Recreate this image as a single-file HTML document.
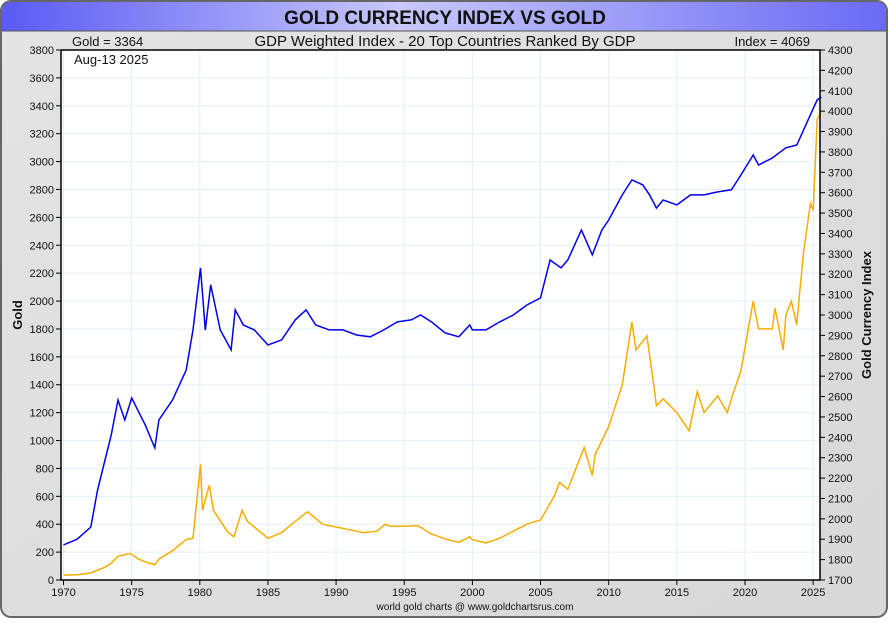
<!DOCTYPE html>
<html><head><meta charset="utf-8"><style>
body{margin:0;width:890px;height:620px;overflow:hidden;background:#fff;font-family:"Liberation Sans",sans-serif}
</style></head><body>
<svg id="c" width="890" height="620" xmlns="http://www.w3.org/2000/svg">
<defs>
<linearGradient id="tb" x1="0" x2="1"><stop offset="0" stop-color="#5a5af5"/><stop offset="0.45" stop-color="#c8c8fa"/><stop offset="1" stop-color="#6a6af5"/></linearGradient>
<linearGradient id="bg" x1="0" y1="0" x2="1" y2="1"><stop offset="0" stop-color="#e4e4e4"/><stop offset="1" stop-color="#d8d8d8"/></linearGradient>
</defs>
<rect x="1" y="1" width="886" height="616" rx="10" fill="url(#bg)" stroke="#666" stroke-width="2"/>
<path d="M2 31 V12 Q2 2 12 2 H876 Q886 2 886 12 V31 Z" fill="url(#tb)"/>
<line x1="2" y1="31" x2="886" y2="31" stroke="#555"/>
<text x="445" y="24" text-anchor="middle" font-size="19" font-weight="bold" fill="#111">GOLD CURRENCY INDEX VS GOLD</text>
<text x="72" y="46" font-size="13" fill="#111">Gold = 3364</text>
<text x="445" y="46" text-anchor="middle" font-size="15" fill="#111">GDP Weighted Index - 20 Top Countries Ranked By GDP</text>
<text x="810" y="46" text-anchor="end" font-size="13" fill="#111">Index = 4069</text>
<rect x="61" y="50" width="759" height="530" fill="#fff"/>
<g id="grid"></g><g id="series"></g><g id="axes"></g>
<text x="74" y="64" font-size="13" fill="#111">Aug-13  2025</text>
<text transform="translate(22,315) rotate(-90)" text-anchor="middle" font-size="13" font-weight="bold" fill="#111">Gold</text>
<text transform="translate(871,315) rotate(-90)" text-anchor="middle" font-size="13" font-weight="bold" fill="#111">Gold Currency Index</text>
<text x="475" y="610" text-anchor="middle" font-size="10" fill="#111">world gold charts @ www.goldchartsrus.com</text>
</svg>
<script>
const goldYears=[1970,1971,1972,1973,1973.5,1974,1974.9,1975.5,1976,1976.7,1977,1978,1979,1979.5,1980.05,1980.2,1980.7,1981,1982,1982.5,1983.1,1983.5,1984,1985,1986,1987,1987.9,1988.5,1989,1990,1991,1992,1993,1993.6,1994,1995,1996,1997,1998,1999,1999.8,2000,2001,2002,2003,2004,2005,2006,2006.4,2007,2008.2,2008.8,2009,2010,2011,2011.7,2012,2012.8,2013.3,2013.5,2014,2015,2015.9,2016.5,2017,2018,2018.7,2019,2019.7,2020.6,2021,2022,2022.2,2022.8,2023,2023.4,2023.8,2024,2024.3,2024.8,2025,2025.3,2025.6];
const goldValues=[35,38,50,90,120,170,190,150,130,110,150,210,290,300,830,500,680,500,350,310,500,420,380,300,340,420,490,440,400,380,360,340,350,400,385,385,390,330,295,270,310,290,265,300,350,400,430,600,700,650,950,750,900,1100,1400,1850,1650,1750,1400,1250,1300,1200,1070,1350,1200,1320,1200,1300,1500,2000,1800,1800,1950,1650,1900,2000,1830,2050,2350,2700,2650,3300,3364];
const idxYears=[1970,1971,1972,1972.5,1973.5,1974,1974.5,1975,1976,1976.7,1977,1978,1979,1979.5,1980.05,1980.4,1980.8,1981.5,1982.3,1982.6,1983.2,1984,1985,1986,1987,1987.8,1988.5,1989.5,1990.5,1991.5,1992.5,1993.5,1994.5,1995.5,1996.2,1997,1998,1999,1999.8,2000,2001,2002,2003,2004,2005,2005.7,2006.5,2007,2008,2008.8,2009.5,2010,2011,2011.7,2012.5,2013,2013.5,2014,2015,2016,2017,2018,2019,2019.7,2020.6,2021,2022,2023,2023.8,2024.3,2024.8,2025.3,2025.6];
const idxValues=[1872,1900,1960,2142,2411,2583,2485,2593,2460,2348,2485,2583,2730,2927,3231,2927,3148,2927,2829,3025,2951,2927,2853,2878,2976,3025,2951,2927,2927,2902,2893,2927,2966,2976,3000,2966,2912,2893,2951,2927,2927,2966,3000,3049,3084,3270,3231,3270,3417,3295,3417,3466,3589,3663,3638,3589,3525,3564,3540,3589,3589,3604,3614,3687,3785,3736,3770,3820,3834,3908,3982,4055,4069];
const xTicks=[1970,1975,1980,1985,1990,1995,2000,2005,2010,2015,2020,2025];
const leftTicks=[0,200,400,600,800,1000,1200,1400,1600,1800,2000,2200,2400,2600,2800,3000,3200,3400,3600,3800];
const rightTicks=[1700,1800,1900,2000,2100,2200,2300,2400,2500,2600,2700,2800,2900,3000,3100,3200,3300,3400,3500,3600,3700,3800,3900,4000,4100,4200,4300];
const NS="http://www.w3.org/2000/svg";
const X=y=>63.5+(y-1970)*13.63;
const YL=v=>580-v*(530/3800);
const YR=v=>580-(v-1700)*(530/2600);
function mk(t,a,p){const e=document.createElementNS(NS,t);for(const k in a)e.setAttribute(k,a[k]);document.getElementById(p).appendChild(e);return e;}
xTicks.forEach(t=>{
 const g=mk('line',{x1:X(t),x2:X(t),y1:50,y2:580,stroke:'#e3eef6'},'grid');
 
 
 const k=mk('line',{x1:X(t),x2:X(t),y1:580,y2:585,stroke:'#000'},'axes');
 
 
 const l=mk('text',{x:X(t),y:596,'text-anchor':'middle','font-size':11,fill:'#111'},'axes');l.textContent=t;
 
 
});
leftTicks.forEach(t=>{
 const g=mk('line',{x1:61,x2:820,y1:YL(t),y2:YL(t),stroke:'#e3eef6'},'grid');
 
 
 const k=mk('line',{x1:56,x2:61,y1:YL(t),y2:YL(t),stroke:'#000'},'axes');
 
 
 const l=mk('text',{x:54,y:YL(t)+4,'text-anchor':'end','font-size':11,fill:'#111'},'axes');l.textContent=t;
 
 
});
rightTicks.forEach(t=>{
 const k=mk('line',{x1:820,x2:825,y1:YR(t),y2:YR(t),stroke:'#000'},'axes');
 
 
 const l=mk('text',{x:828,y:YR(t)+4,'font-size':11,fill:'#111'},'axes');l.textContent=t;
 
 
});
const ax=mk('path',{d:'M61 50 V580 H820 V50 H61',fill:'none',stroke:'#000','stroke-width':1.5},'axes');


const gp=mk('polyline',{points:goldYears.map((y,i)=>X(y).toFixed(1)+','+YL(goldValues[i]).toFixed(1)).join(' '),fill:'none',stroke:'#f5ad00','stroke-width':1.5},'series');


const ip=mk('polyline',{points:idxYears.map((y,i)=>X(y).toFixed(1)+','+YR(idxValues[i]).toFixed(1)).join(' '),fill:'none',stroke:'#0000e8','stroke-width':1.5},'series');


</script>
</body></html>
